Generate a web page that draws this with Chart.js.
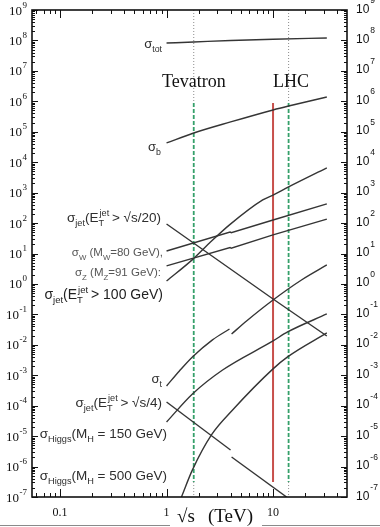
<!DOCTYPE html>
<html>
<head>
<meta charset="utf-8">
<script src="https://cdn.jsdelivr.net/npm/chart.js@4.4.0/dist/chart.umd.min.js"></script>
<style>
  html, body { margin: 0; padding: 0; background: #fff; }
  #wrap { width: 380px; height: 527px; position: relative; }
</style>
</head>
<body>
<div id="wrap"><canvas id="xsecChart"></canvas></div>
<script>
// cross sections: [sqrt(s) in TeV, sigma]
const sigmaTot = [[1, 8.2e7], [1.8, 8.9e7], [4, 1.0e8], [10, 1.1e8], [32, 1.2e8]];
const sigmaB = [[1, 4.3e4], [1.8, 9.1e4], [4, 2.1e5], [10, 5.2e5], [14, 7.0e5], [32, 1.38e6]];
const sigmaJet100 = [[1, 1.25], [1.75, 6.3], [2.53, 22], [3.9, 87], [8, 575], [10, 835], [14, 1540], [32, 6500]];
const sigmaW = [[1, 12.1], [3.95, 51], [4.05, 48.5], [10, 126], [32, 427]];
const sigmaZ = [[1, 3.9], [3.95, 15.8], [4.05, 14.9], [10, 41], [32, 135]];
const sigmaJetS20 = [[1, 93], [10, 0.32], [32, 0.0195]];
const sigmaTopLow = [[1, 4.45e-4], [1.32, 1.38e-3], [1.75, 3.98e-3], [2.7, 0.0145], [3.9, 0.033]];
const sigmaTopHigh = [[4.08, 0.0227], [5.64, 0.0607], [10, 0.297], [18.5, 1.35], [32, 4.2]];
const sigmaJetS4Low = [[1, 1.32e-4], [3.99, 3.5e-6]];
const sigmaJetS4High = [[4.08, 2.07e-6], [13.4, 1e-7]];
const sigmaHiggs150 = [[1, 2.92e-5], [1.75, 2.43e-4], [3.36, 1.49e-3], [10, 0.0134], [13.7, 0.0264], [32, 0.103]];
const sigmaHiggs500 = [[1.38, 1e-7], [1.75, 7.8e-7], [2.64, 1.1e-5], [4.17, 7.2e-5], [10, 1.62e-3], [13.7, 4.0e-3], [32, 0.0245]];

// collider energies (TeV) and the span of the marker lines
const tevatronE = 1.8;
const lhcE = 14;
const lhcRunE = 10;
const markerTop = 8.8e5;
const markerBottom = 3.1e-7;

// axes
const yExponents = [-7, -6, -5, -4, -3, -2, -1, 0, 1, 2, 3, 4, 5, 6, 7, 8, 9];
const xTickValues = [0.1, 1, 10];
const xTickLabels = ['0.1', '1', '10'];
const xMin = 0.0545, xMax = 49.5;

const toXY = pts => pts.map(p => ({ x: p[0], y: p[1] }));

function curve(pts, straight) {
  const ds = {
    data: toXY(pts),
    borderColor: '#353535',
    borderWidth: 1.4,
    pointRadius: 0,
    fill: false
  };
  if (straight) ds.tension = 0;
  else ds.cubicInterpolationMode = 'monotone';
  return ds;
}
function vline(e, lo, hi, color, width, dash) {
  return {
    data: [{ x: e, y: hi }, { x: e, y: lo }],
    borderColor: color,
    borderWidth: width,
    borderDash: dash,
    pointRadius: 0,
    tension: 0,
    fill: false
  };
}

const SANS = '"Liberation Sans", Arial, sans-serif';
const SERIF = '"Liberation Serif", "Times New Roman", serif';

// draws text with sub/superscripts, right-aligned at xr
function drawRich(ctx, parts, xr, base, size, color) {
  const small = size * 0.68;
  const widths = parts.map(p => {
    if (typeof p === 'string') {
      ctx.font = size + 'px ' + SANS;
      return ctx.measureText(p).width;
    }
    ctx.font = small + 'px ' + SANS;
    return Math.max(p.sub ? ctx.measureText(p.sub).width : 0, p.sup ? ctx.measureText(p.sup).width : 0);
  });
  let x = xr - widths.reduce((a, b) => a + b, 0);
  ctx.fillStyle = color;
  ctx.textAlign = 'left';
  ctx.textBaseline = 'alphabetic';
  parts.forEach((p, i) => {
    if (typeof p === 'string') {
      ctx.font = size + 'px ' + SANS;
      ctx.fillText(p, x, base);
    } else {
      ctx.font = small + 'px ' + SANS;
      if (p.sub) ctx.fillText(p.sub, x, base + size * 0.32);
      if (p.sup) ctx.fillText(p.sup, x + 1, base - size * 0.42);
    }
    x += widths[i];
  });
}

const decor = {
  id: 'decor',
  afterDraw(chart) {
    const { ctx, chartArea: a, scales: { x, y } } = chart;
    ctx.save();
    const seg = (x1, y1, x2, y2) => { ctx.beginPath(); ctx.moveTo(x1, y1); ctx.lineTo(x2, y2); ctx.stroke(); };

    // ticks, pointing inward
    ctx.strokeStyle = '#111';
    ctx.lineWidth = 1;
    yExponents.forEach(e => {
      for (let m = 1; m < 10; m++) {
        const v = m * Math.pow(10, e);
        if (v > y.max * 1.0001) break;
        const py = Math.round(y.getPixelForValue(v)) + 0.5;
        const len = m === 1 ? 6 : 3;
        seg(a.left, py, a.left + len, py);
        seg(a.right, py, a.right - len, py);
      }
    });
    [0.01, 0.1, 1, 10].forEach(d => {
      for (let m = 1; m < 10; m++) {
        const v = m * d;
        if (v < xMin || v > xMax) continue;
        const px = Math.round(x.getPixelForValue(v)) + 0.5;
        const len = m === 1 ? 8 : 4;
        seg(px, a.top, px, a.top + len);
        seg(px, a.bottom, px, a.bottom - len);
      }
    });

    // frame
    ctx.lineWidth = 1.6;
    ctx.strokeRect(a.left, a.top, a.right - a.left, a.bottom - a.top);

    // y tick labels
    ctx.fillStyle = '#111';
    ctx.textBaseline = 'alphabetic';
    yExponents.forEach(e => {
      const py = y.getPixelForValue(Math.pow(10, e));
      const sup = String(e);
      // left, serif, right-aligned
      ctx.textAlign = 'right';
      ctx.font = '9px ' + SERIF;
      const sw = ctx.measureText(sup).width;
      ctx.fillText(sup, 27, py - 2.5);
      ctx.font = '13px ' + SERIF;
      ctx.fillText('10', 27 - sw - 0.5, py + 4.5);
      // right, sans
      ctx.textAlign = 'left';
      ctx.font = '12px ' + SANS;
      const mw = ctx.measureText('10').width;
      ctx.fillText('10', 356, py + 2.5);
      ctx.font = '8.5px ' + SANS;
      ctx.fillText(sup, 356 + mw + 1, py - 7);
    });

    // x tick labels and title
    ctx.textAlign = 'center';
    ctx.font = '12px ' + SERIF;
    xTickValues.forEach((v, i) => ctx.fillText(xTickLabels[i], x.getPixelForValue(v), 516));
    ctx.textAlign = 'left';
    ctx.font = '19px ' + SERIF;
    ctx.fillText('\u221As', 177, 522);
    ctx.fillText('(TeV)', 208, 522);

    // collider names
    ctx.font = '18px ' + SERIF;
    ctx.fillText('Tevatron', 162, 87);
    ctx.fillText('LHC', 273, 87);

    // curve labels
    const dark = '#2e2e2e', grey = '#555';
    drawRich(ctx, ['\u03C3', { sub: 'tot' }], 162, 48, 13, dark);
    drawRich(ctx, ['\u03C3', { sub: 'b' }], 161, 151, 13, dark);
    drawRich(ctx, ['\u03C3', { sub: 'jet' }, '(E', { sub: 'T', sup: 'jet' }, ' > \u221As/20)'], 161, 222, 13.5, dark);
    drawRich(ctx, ['\u03C3', { sub: 'W' }, ' (M', { sub: 'W' }, '=80 GeV),'], 163, 256, 11.5, grey);
    drawRich(ctx, ['\u03C3', { sub: 'Z' }, ' (M', { sub: 'Z' }, '=91 GeV):'], 161, 276, 11.5, grey);
    drawRich(ctx, ['\u03C3', { sub: 'jet' }, '(E', { sub: 'T', sup: 'jet' }, ' > 100 GeV)'], 163, 299, 14, '#222');
    drawRich(ctx, ['\u03C3', { sub: 't' }], 162, 383, 13, dark);
    drawRich(ctx, ['\u03C3', { sub: 'jet' }, '(E', { sub: 'T', sup: 'jet' }, ' > \u221As/4)'], 162, 407, 13.5, dark);
    drawRich(ctx, ['\u03C3', { sub: 'Higgs' }, '(M', { sub: 'H' }, ' = 150 GeV)'], 167, 438, 13.5, dark);
    drawRich(ctx, ['\u03C3', { sub: 'Higgs' }, '(M', { sub: 'H' }, ' = 500 GeV)'], 167, 480, 13.5, dark);

    // thin rules under the axis title
    ctx.strokeStyle = '#8a8a8a';
    ctx.lineWidth = 1;
    seg(0, 525.5, 170, 525.5);
    seg(262, 525.5, 380, 525.5);
    ctx.restore();
  }
};

const green = '#35a06a', red = '#c8504c', dots = '#8c8c8c';

new Chart(document.getElementById('xsecChart'), {
  type: 'line',
  data: {
    datasets: [
      curve(sigmaTot), curve(sigmaB), curve(sigmaJet100), curve(sigmaW, true), curve(sigmaZ, true),
      curve(sigmaJetS20, true), curve(sigmaTopLow), curve(sigmaTopHigh), curve(sigmaJetS4Low, true),
      curve(sigmaJetS4High, true), curve(sigmaHiggs150), curve(sigmaHiggs500),
      vline(tevatronE, markerBottom, markerTop, green, 1.8, [4, 2]),
      vline(lhcE, markerBottom, markerTop, green, 1.8, [4, 2]),
      vline(lhcRunE, markerBottom, markerTop, red, 2, []),
      vline(tevatronE, markerTop, 1e9, dots, 1, [1, 2]),
      vline(lhcE, markerTop, 1e9, dots, 1, [1, 2]),
      vline(tevatronE, 1e-7, markerBottom, dots, 1, [1, 2]),
      vline(lhcE, 1e-7, markerBottom, dots, 1, [1, 2])
    ]
  },
  options: {
    responsive: true,
    maintainAspectRatio: false,
    animation: false,
    layout: { padding: { left: 32, right: 33, top: 10, bottom: 30 } },
    plugins: { legend: { display: false }, tooltip: { enabled: false } },
    scales: {
      x: { type: 'logarithmic', min: xMin, max: xMax, display: false },
      y: { type: 'logarithmic', min: 1e-7, max: 1e9, display: false }
    }
  },
  plugins: [decor]
});
</script>
</body>
</html>
